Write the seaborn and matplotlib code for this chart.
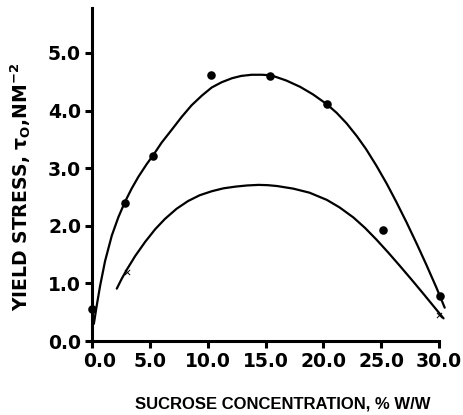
import numpy as np
import pandas as pd
import matplotlib
matplotlib.use("Agg")
import matplotlib.pyplot as plt
import matplotlib.transforms as mtransforms
import seaborn as sns

# Measured data points (filled circles)
pts_x = [0.0, 2.8, 5.3, 10.3, 15.4, 20.3, 25.2, 30.1]
pts_y = [0.55, 2.40, 3.21, 4.62, 4.60, 4.11, 1.93, 0.79]

# Upper fitted curve
up_x = [0.15, 0.4, 0.69, 1.12, 1.70, 2.27, 2.85, 3.43, 4.0, 4.72, 5.3, 6.0,
        6.9, 7.75, 8.6, 9.5, 10.35, 11.2, 12.1, 12.9, 13.8, 14.7, 15.5,
        16.8, 18.0, 19.1, 20.3, 21.15, 22.0, 22.9, 23.7, 24.6, 25.5, 26.3,
        27.2, 28.1, 28.9, 29.8, 30.5]
up_y = [0.30, 0.62, 0.96, 1.39, 1.83, 2.15, 2.42, 2.65, 2.85, 3.07, 3.23, 3.44,
        3.67, 3.89, 4.09, 4.26, 4.40, 4.49, 4.56, 4.60, 4.62, 4.62, 4.61,
        4.52, 4.41, 4.28, 4.11, 3.96, 3.78, 3.555, 3.33, 3.04, 2.725, 2.42,
        2.06, 1.68, 1.33, 0.92, 0.58]

# Lower fitted curve
lo_x = [2.13, 2.57, 3.0, 3.72, 4.58, 5.45, 6.3, 7.3, 8.3, 9.3, 10.35, 11.35,
        12.4, 13.4, 14.4, 15.2, 16.0, 17.4, 18.8, 20.3, 21.4, 22.6, 23.6, 24.6,
        25.6, 26.6, 27.6, 28.6, 29.5, 30.4]
lo_y = [0.91, 1.086, 1.24, 1.475, 1.72, 1.94, 2.12, 2.295, 2.43, 2.53, 2.60, 2.65,
        2.68, 2.70, 2.71, 2.705, 2.69, 2.645, 2.575, 2.45, 2.32, 2.145, 1.965, 1.76,
        1.54, 1.31, 1.075, 0.835, 0.615, 0.395]

# Small open markers on the lower curve
om_x = [3.0, 30.0]
om_y = [1.20, 0.45]

x_ticks = [0, 5, 10, 15, 20, 25, 30]
x_ticklabels = ["0.0", "5.0", "10.0", "15.0", "20.0", "25.0", "30.0"]
y_ticks = [0, 1, 2, 3, 4, 5]
y_ticklabels = ["0.0", "1.0", "2.0", "3.0", "4.0", "5.0"]

sns.set_theme(style="white")
plt.rcParams["font.family"] = ["DejaVu Sans"]
plt.rcParams["mathtext.fontset"] = "dejavusans"
plt.rcParams["mathtext.default"] = "bf"

fig = plt.figure(figsize=(4.63, 4.15), dpi=100)
ax = fig.add_axes([0.199, 0.178, 0.749, 0.803])

up = pd.DataFrame({"x": up_x, "y": up_y})
lo = pd.DataFrame({"x": lo_x, "y": lo_y})
pts = pd.DataFrame({"x": pts_x, "y": pts_y})
om = pd.DataFrame({"x": om_x, "y": om_y})

sns.lineplot(data=up, x="x", y="y", sort=False, color="black", lw=1.6, ax=ax)
sns.lineplot(data=lo, x="x", y="y", sort=False, color="black", lw=1.6, ax=ax)
sns.scatterplot(data=pts, x="x", y="y", color="black", s=38, edgecolor="black",
                linewidth=0, ax=ax, zorder=5, clip_on=False)
sns.scatterplot(data=om, x="x", y="y", marker="x", color="black", s=14,
                linewidth=0.7, ax=ax, zorder=5, clip_on=False)
for ln in ax.lines:
    ln.set_clip_on(False)
    ln.set_solid_joinstyle("round")
    ln.set_solid_capstyle("round")

ax.set_xlim(0, 30)
ax.set_ylim(0, 5.78)
ax.set_xticks(x_ticks)
ax.set_xticklabels(x_ticklabels)
ax.set_yticks(y_ticks)
ax.set_yticklabels(y_ticklabels)

for s in ["top", "right"]:
    ax.spines[s].set_visible(False)
for s in ["left", "bottom"]:
    ax.spines[s].set_linewidth(2.2)
    ax.spines[s].set_color("black")

ax.tick_params(axis="both", which="major", direction="out", length=5, width=2.2,
               color="black", labelsize=13.5, labelcolor="black", pad=3,
               bottom=True, left=True)
for lab in ax.get_xticklabels() + ax.get_yticklabels():
    lab.set_fontweight("bold")
first = ax.get_xticklabels()[0]
first.set_transform(first.get_transform() +
                    mtransforms.ScaledTranslation(7 / 100, 0, fig.dpi_scale_trans))

ax.set_xlabel("SUCROSE CONCENTRATION, % W/W", fontsize=12, fontweight="bold",
              color="black", family=["Liberation Sans", "DejaVu Sans"])
ax.xaxis.set_label_coords(0.55, -0.165)
ax.set_ylabel(r"YIELD STRESS, $\tau_{O}$,N$\mathregular{M}^{-2}$", fontsize=13.5,
              fontweight="bold", color="black")
ax.yaxis.set_label_coords(-0.17, 0.464)

fig.savefig("out.png", dpi=100, facecolor="white")
